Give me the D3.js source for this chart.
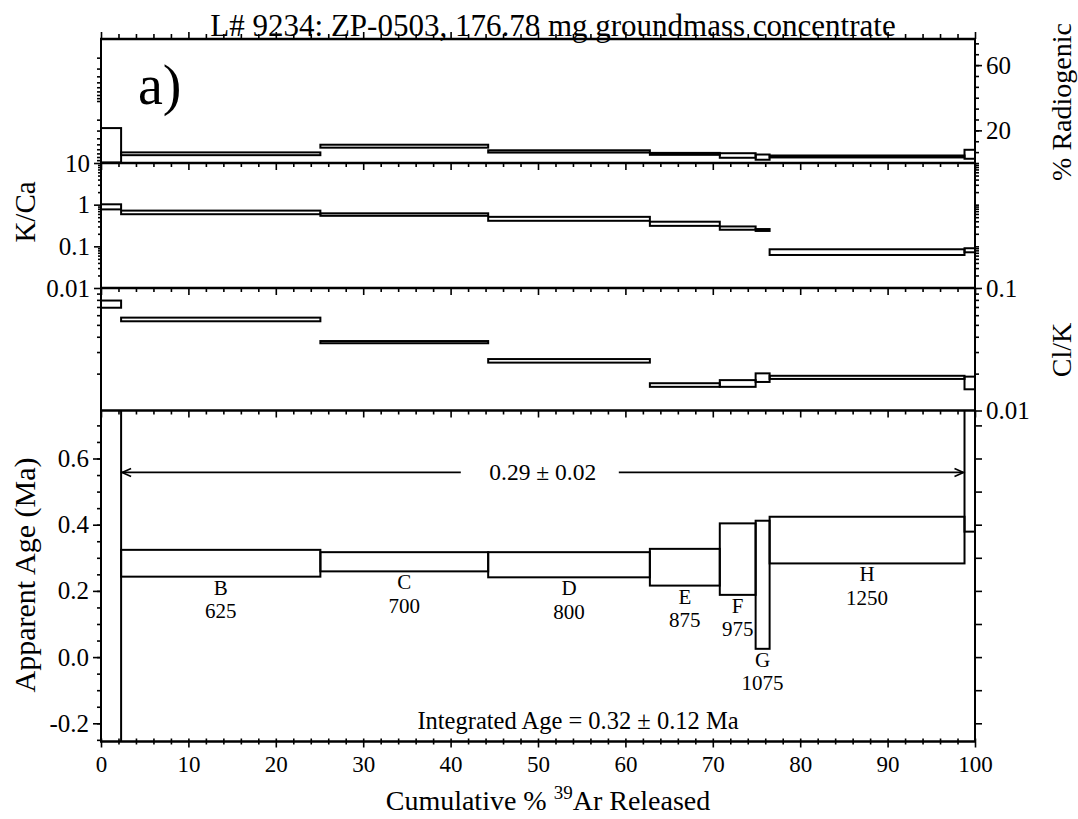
<!DOCTYPE html>
<html>
<head>
<meta charset="utf-8">
<script src="https://cdn.jsdelivr.net/npm/d3@7"></script>
<style>
  body { margin: 0; background: #fff; }
  svg text { font-family: "Liberation Serif", "Times New Roman", serif; fill: #000; }
  .axis path { display: none; }
  .axis line { stroke: #000; stroke-width: 1.6; }
</style>
</head>
<body>
<svg id="chart" width="1078" height="819"></svg>
<script>
// Step-heating increments (letter, furnace temperature in °C)
const steps = ["A", "B", "C", "D", "E", "F", "G", "H", "I"];
const temps = [null, 625, 700, 800, 875, 975, 1075, 1250, null];
// Cumulative % 39Ar released at each increment boundary
const cumEdges = [0, 2.3, 25.1, 44.3, 62.8, 70.8, 74.9, 76.5, 98.8, 100];

// % radiogenic 40Ar (2-sigma envelope)
const radLow  = [0.3, 4.8, 9.4, 6.4, 5.0, 3.2, 2.0, 3.4, 2.6];
const radHigh = [21.4, 6.5, 11.2, 7.8, 6.2, 6.0, 5.2, 4.6, 8.1];
// K/Ca
const kcaLow  = [0.77, 0.59, 0.54, 0.41, 0.31, 0.25, 0.234, 0.062, 0.072];
const kcaHigh = [1.02, 0.72, 0.62, 0.51, 0.39, 0.30, 0.26, 0.085, 0.09];
// Cl/K
const clkLow  = [0.069, 0.0535, 0.0354, 0.0246, 0.0156, 0.0156, 0.0171, 0.0181, 0.0149];
const clkHigh = [0.079, 0.0573, 0.0369, 0.0263, 0.0167, 0.0177, 0.0201, 0.0192, 0.0189];
// Apparent age (Ma), 2-sigma envelope
const ageLow  = [-1.0, 0.243, 0.259, 0.241, 0.216, 0.188, 0.025, 0.283, 0.379];
const ageHigh = [1.5, 0.324, 0.317, 0.317, 0.327, 0.404, 0.412, 0.424, 0.86];

// Plateau (steps B–H) and integrated age
const plateauSteps = ["B", "H"];
const plateauAge = 0.29, plateauErr = 0.02;
const integratedAge = 0.32, integratedErr = 0.12;

// Tick labels
const xTickLabels = [0, 10, 20, 30, 40, 50, 60, 70, 80, 90, 100];
const radTickLabels = [20, 60];
const kcaTickLabels = [10, 1, 0.1, 0.01];
const clkTickLabels = [0.1, 0.01];
const ageTickLabels = [-0.2, 0.0, 0.2, 0.4, 0.6];

const title = "L# 9234:  ZP-0503, 176.78 mg groundmass concentrate";

// ---- layout ----
const svg = d3.select("#chart");
const X0 = 101, X1 = 975;
const x = d3.scaleLinear([0, 100], [X0, X1]);

const panels = [
  { id: "rad", top: 39,    bottom: 163,   y: d3.scaleLinear([0, 76], [163, 39]),          lo: radLow, hi: radHigh },
  { id: "kca", top: 163,   bottom: 288,   y: d3.scaleLog([0.01, 10], [288, 163]),        lo: kcaLow, hi: kcaHigh },
  { id: "clk", top: 288,   bottom: 410.5, y: d3.scaleLog([0.01, 0.1], [410.5, 288]),     lo: clkLow, hi: clkHigh },
  { id: "age", top: 410.5, bottom: 741.5, y: d3.scaleLinear([-0.255, 0.745], [741.5, 410.5]), lo: ageLow, hi: ageHigh }
];

const defs = svg.append("defs");
panels.forEach(p => {
  defs.append("clipPath").attr("id", "clip-" + p.id)
    .append("rect").attr("x", X0).attr("y", p.top)
    .attr("width", X1 - X0).attr("height", p.bottom - p.top);
});

// ---- step boxes ----
panels.forEach(p => {
  const g = svg.append("g").attr("clip-path", `url(#clip-${p.id})`);
  g.selectAll("rect").data(steps).join("rect")
    .attr("x", (d, i) => x(cumEdges[i]))
    .attr("width", (d, i) => x(cumEdges[i + 1]) - x(cumEdges[i]))
    .attr("y", (d, i) => p.y(p.hi[i]))
    .attr("height", (d, i) => p.y(p.lo[i]) - p.y(p.hi[i]))
    .attr("fill", "none").attr("stroke", "#000").attr("stroke-width", 2);
});

// ---- x ticks: bottom axis and panel tops ----
const xMinor = d3.range(0, 101, 2).filter(v => v % 10 !== 0);
const ageP = panels[3];

svg.append("g").attr("class", "axis").attr("transform", `translate(0,${ageP.bottom})`)
  .call(d3.axisBottom(x).tickValues(xTickLabels).tickSize(6).tickPadding(4).tickFormat(d3.format("d")))
  .call(g => g.selectAll("text").attr("font-size", 23).attr("dy", "0.9em"));
svg.append("g").attr("class", "axis").attr("transform", `translate(0,${ageP.bottom})`)
  .call(d3.axisTop(x).tickValues(xTickLabels).tickSize(3).tickFormat(""));
svg.append("g").attr("class", "axis").attr("transform", `translate(0,${ageP.bottom})`)
  .call(d3.axisBottom(x).tickValues(xMinor).tickSize(3).tickFormat(""));
svg.append("g").attr("class", "axis").attr("transform", `translate(0,${ageP.bottom})`)
  .call(d3.axisTop(x).tickValues(xMinor).tickSize(3).tickFormat(""));

// top frame: ticks pointing up
svg.append("g").attr("class", "axis").attr("transform", `translate(0,${panels[0].top})`)
  .call(d3.axisTop(x).tickValues(xTickLabels).tickSize(7).tickFormat(""));
svg.append("g").attr("class", "axis").attr("transform", `translate(0,${panels[0].top})`)
  .call(d3.axisTop(x).tickValues(xMinor).tickSize(5).tickFormat(""));

// panel separators: ticks pointing down into the panel below
panels.slice(1).forEach(p => {
  svg.append("g").attr("class", "axis").attr("transform", `translate(0,${p.top})`)
    .call(d3.axisBottom(x).tickValues(xTickLabels).tickSize(7).tickFormat(""));
  svg.append("g").attr("class", "axis").attr("transform", `translate(0,${p.top})`)
    .call(d3.axisBottom(x).tickValues(xMinor).tickSize(4).tickFormat(""));
});

// ---- y ticks ----
function yAxis(scale, side, values, size, fmt) {
  const ax = (side === "left" ? d3.axisLeft(scale) : d3.axisRight(scale))
    .tickValues(values).tickSize(size).tickPadding(4)
    .tickFormat(fmt || "");
  const g = svg.append("g").attr("class", "axis")
    .attr("transform", `translate(${side === "left" ? X0 : X1},0)`)
    .call(ax);
  g.selectAll("text").attr("font-size", 25);
  return g;
}
const isPow10 = v => Math.abs(Math.log10(v) - Math.round(Math.log10(v))) < 1e-9;
const hyphenFmt = f => d => f(d).replace("\u2212", "-");

// % Radiogenic (right) and log guide ticks (left)
const radP = panels[0];
const radMinor = d3.range(0, 77, 20 / 3);
yAxis(radP.y, "right", radMinor, 4);
yAxis(radP.y, "right", radTickLabels, 7, d3.format("d"));
const radGuide = d3.scaleLog([1, 100], [39, 163]);
yAxis(radGuide, "left", radGuide.ticks().filter(v => v > 1 && v < 100), 4);

// K/Ca
const kcaP = panels[1];
const kcaTicks = kcaP.y.ticks().filter(v => v > 0.01 && v < 10);
yAxis(kcaP.y, "left", kcaTicks.filter(v => !isPow10(v)), 3);
yAxis(kcaP.y, "left", kcaTickLabels, 7, d => d >= 1 ? d3.format("d")(d) : String(d));
yAxis(kcaP.y, "right", kcaTicks, 4);

// Cl/K
const clkP = panels[2];
const clkTicks = clkP.y.ticks().filter(v => v > 0.01 && v < 0.1);
yAxis(clkP.y, "left", clkTicks, 4);
yAxis(clkP.y, "right", clkTicks, 4);
yAxis(clkP.y, "right", clkTickLabels, 7, d => String(d));

// Apparent age
const ageMinor = d3.range(-0.25, 0.75, 0.05).map(v => +v.toFixed(2));
yAxis(ageP.y, "left", ageMinor, 4);
yAxis(ageP.y, "left", ageTickLabels, 8, hyphenFmt(d3.format(".1f")));
yAxis(ageP.y, "right", d3.range(-0.2, 0.75, 0.1).map(v => +v.toFixed(1)), 7);

// ---- frame ----
const frame = svg.append("g").attr("stroke", "#000").attr("fill", "none");
[panels[0].top, ...panels.map(p => p.bottom)].forEach(yv => {
  frame.append("line").attr("x1", X0 - 1).attr("x2", X1 + 1).attr("y1", yv).attr("y2", yv)
    .attr("stroke-width", 2.6);
});
[X0, X1].forEach(xv => {
  frame.append("line").attr("x1", xv).attr("x2", xv)
    .attr("y1", panels[0].top).attr("y2", ageP.bottom).attr("stroke-width", 2);
});

// ---- step labels (letter over temperature) ----
const lab = svg.append("g").attr("text-anchor", "middle").attr("font-size", 21);
steps.forEach((s, i) => {
  if (temps[i] == null) return;
  const cx = x((cumEdges[i] + cumEdges[i + 1]) / 2);
  const yb = ageP.y(ageLow[i]);
  lab.append("text").attr("x", cx).attr("y", yb + 18).text(s);
  lab.append("text").attr("x", cx).attr("y", yb + 41.5).text(temps[i]);
});

// ---- plateau arrow ----
const arrowAge = 0.558;
const pStart = cumEdges[steps.indexOf(plateauSteps[0])];
const pEnd = cumEdges[steps.indexOf(plateauSteps[1]) + 1];
const ay = ageP.y(arrowAge);
const ax0 = x(pStart), ax1 = x(pEnd);
const axMid = x((pStart + pEnd) / 2);
const arrow = svg.append("g").attr("stroke", "#000").attr("fill", "none").attr("stroke-width", 1.6);
arrow.append("line").attr("x1", ax0 + 1).attr("x2", axMid - 82).attr("y1", ay).attr("y2", ay);
arrow.append("line").attr("x1", axMid + 76).attr("x2", ax1 - 1).attr("y1", ay).attr("y2", ay);
arrow.append("path").attr("d", `M${ax0 + 10},${ay - 4} L${ax0 + 1},${ay} L${ax0 + 10},${ay + 4}`);
arrow.append("path").attr("d", `M${ax1 - 10},${ay - 4} L${ax1 - 1},${ay} L${ax1 - 10},${ay + 4}`);
svg.append("text").attr("x", axMid).attr("y", ay + 8).attr("text-anchor", "middle")
  .attr("font-size", 23.5).text(`${plateauAge.toFixed(2)} ± ${plateauErr.toFixed(2)}`);

// integrated age
svg.append("text").attr("x", 578).attr("y", 729).attr("text-anchor", "middle")
  .attr("font-size", 24.5)
  .text(`Integrated Age = ${integratedAge.toFixed(2)} ± ${integratedErr.toFixed(2)} Ma`);

// ---- titles ----
svg.append("text").attr("x", 553).attr("y", 36).attr("text-anchor", "middle")
  .attr("font-size", 31).text(title);
svg.append("text").attr("x", 138).attr("y", 104).attr("font-size", 56).text("a)");

const xt = svg.append("text").attr("x", 548).attr("y", 810).attr("text-anchor", "middle")
  .attr("font-size", 28);
xt.append("tspan").text("Cumulative % ");
xt.append("tspan").attr("font-size", 19).attr("dy", -11).text("39");
xt.append("tspan").attr("dy", 11).text("Ar Released");

function vLabel(text, xPos, yPos, size) {
  svg.append("text").attr("transform", `translate(${xPos},${yPos}) rotate(-90)`)
    .attr("text-anchor", "middle").attr("font-size", size).text(text);
}
vLabel("Apparent Age (Ma)", 35, 575, 30);
vLabel("K/Ca", 35, 212, 29);
vLabel("% Radiogenic", 1071, 102, 28);
vLabel("Cl/K", 1071, 350, 28);
</script>
</body>
</html>
